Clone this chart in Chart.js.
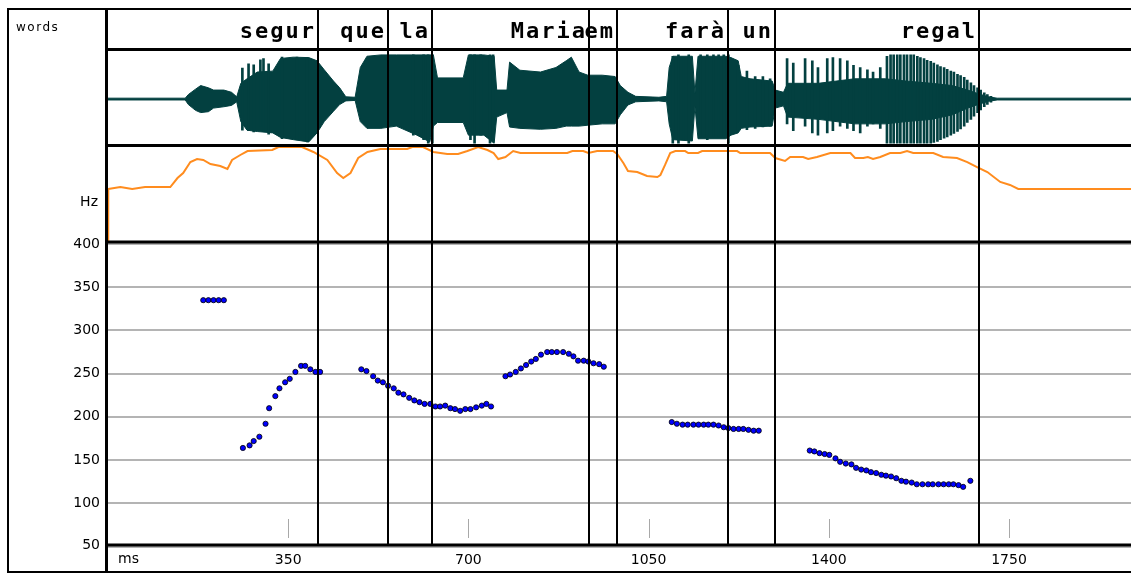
<!DOCTYPE html>
<html>
<head>
<meta charset="utf-8">
<title>Pitch contour</title>
<script src="https://cdn.jsdelivr.net/npm/chart.js@4.4.1/dist/chart.umd.min.js"></script>
<style>
  html, body { margin: 0; padding: 0; background: #fff; }
  #wrap { position: relative; width: 1131px; height: 574px; }
</style>
</head>
<body>
<div id="wrap"><canvas id="praat"></canvas></div>
<script>
// Word tier: labels and their end times (ms)
const words = ['segur', 'que', 'la', 'Maria', 'em', 'farà', 'un', 'regal'];
const wordEnds = [408, 544, 630, 934, 988, 1205, 1296, 1692];

// Axis tick values
const timeTicks = [350, 700, 1050, 1400, 1750];
const hzTicks = [50, 100, 150, 200, 250, 300, 350, 400];

// Waveform envelope (relative amplitude)
const waveTimes = [0, 150, 156, 170, 180, 195, 205, 225, 240, 250, 258, 270, 290, 320, 335, 360, 390, 406, 420, 438,
  450, 462, 480, 490, 503, 530, 560, 600, 625, 632, 640, 690, 700, 730, 750, 755, 775, 780, 800, 840,
  870, 890, 900, 915, 932, 960, 985, 995, 1010, 1025, 1070, 1085, 1090, 1097, 1135, 1140, 1146, 1200, 1210, 1224,
  1230, 1247, 1290, 1296, 1312, 1320, 1380, 1450, 1510, 1550, 1600, 1640, 1670, 1690, 1710, 1727, 1987];
const waveUpper = [0.02, 0.02, 0.1, 0.22, 0.3, 0.25, 0.2, 0.2, 0.15, 0.05, 0.35, 0.45, 0.6, 0.62, 0.9, 0.93, 0.92, 0.85, 0.65, 0.4,
  0.25, 0.05, 0.04, 0.7, 0.95, 0.98, 0.98, 0.98, 0.98, 0.98, 0.47, 0.47, 0.98, 0.98, 0.95, 0.2, 0.2, 0.82, 0.64, 0.6,
  0.7, 0.85, 0.93, 0.6, 0.53, 0.53, 0.5, 0.3, 0.15, 0.06, 0.04, 0.06, 0.7, 0.95, 0.95, 0.13, 0.95, 0.95, 0.92, 0.85,
  0.5, 0.45, 0.4, 0.2, 0.15, 0.35, 0.35, 0.45, 0.45, 0.4, 0.35, 0.3, 0.2, 0.12, 0.05, 0.02, 0.02];
const waveLower = [-0.02, -0.02, -0.12, -0.25, -0.3, -0.28, -0.2, -0.17, -0.14, -0.06, -0.5, -0.69, -0.72, -0.75, -0.85, -0.9, -0.95, -0.75, -0.5, -0.27,
  -0.12, -0.04, -0.03, -0.5, -0.65, -0.65, -0.6, -0.8, -0.95, -0.6, -0.52, -0.52, -0.8, -0.8, -0.98, -0.4, -0.3, -0.62, -0.65, -0.67,
  -0.65, -0.6, -0.6, -0.6, -0.58, -0.55, -0.55, -0.35, -0.13, -0.06, -0.04, -0.06, -0.55, -0.9, -0.93, -0.16, -0.88, -0.88, -0.8, -0.75,
  -0.65, -0.62, -0.6, -0.2, -0.15, -0.4, -0.45, -0.55, -0.55, -0.5, -0.45, -0.35, -0.2, -0.12, -0.05, -0.02, -0.02];

// Glottal pulses that stick out of the envelope
const spikeTimes = [261, 273, 283, 296, 302, 312, 338, 367, 387,
  593, 613, 622, 630,
  704, 712, 724, 742, 748,
  1097, 1108, 1118, 1128, 1151, 1164, 1176, 1186, 1196, 1205,
  1224, 1241, 1257, 1272, 1286,
  1319, 1331, 1354, 1368, 1379, 1397, 1408, 1422, 1436, 1448, 1461, 1475, 1486, 1500,
  1513, 1520, 1526, 1533, 1539, 1546, 1552, 1559, 1565, 1572, 1578, 1585, 1591, 1598, 1604, 1611,
  1617, 1624, 1630, 1637, 1643, 1650, 1656, 1663, 1669, 1676, 1682, 1689, 1695, 1702, 1708, 1715];
const spikeTop = [0.69, 0.78, 0.76, 0.87, 0.9, 0.78, 0.93, 0.93, 0.92,
  0.98, 0.98, 0.98, 0.98,
  0.98, 0.98, 0.98, 0.98, 0.98,
  0.95, 0.98, 0.92, 0.98, 0.98, 0.98, 0.98, 0.98, 0.98, 0.98,
  0.75, 0.62, 0.5, 0.5, 0.45,
  0.9, 0.8, 0.9, 0.85, 0.7, 0.9, 0.92, 0.9, 0.85, 0.75, 0.7, 0.65, 0.6, 0.7,
  0.95, 0.98, 0.98, 0.98, 0.98, 0.98, 0.98, 0.98, 0.98, 0.95, 0.92, 0.9, 0.86, 0.84, 0.8, 0.76,
  0.72, 0.7, 0.66, 0.62, 0.6, 0.55, 0.52, 0.48, 0.42, 0.36, 0.3, 0.25, 0.2, 0.14, 0.1, 0.06];
const spikeBottom = [-0.69, -0.7, -0.73, -0.6, -0.7, -0.78, -0.88, -0.9, -0.95,
  -0.8, -0.9, -0.98, -0.98,
  -0.9, -0.98, -0.8, -0.98, -0.95,
  -0.98, -0.98, -0.9, -0.98, -0.85, -0.9, -0.85, -0.82, -0.8, -0.98,
  -0.7, -0.68, -0.65, -0.62, -0.6,
  -0.55, -0.7, -0.6, -0.75, -0.8, -0.75, -0.7, -0.6, -0.65, -0.7, -0.75, -0.6, -0.55, -0.65,
  -0.98, -0.98, -0.98, -0.98, -0.98, -0.98, -0.98, -0.98, -0.98, -0.98, -0.98, -0.98, -0.98, -0.98, -0.96, -0.94,
  -0.9, -0.87, -0.84, -0.8, -0.76, -0.72, -0.66, -0.6, -0.52, -0.45, -0.38, -0.3, -0.24, -0.17, -0.12, -0.07];

// Intensity contour (dB, relative)
const intTimes = [0, 0.5, 24, 47, 72, 121, 135, 146, 160, 173, 185, 199, 218, 232, 241, 257, 271, 319, 331, 377,
  399, 426, 445, 457, 471, 486, 504, 529, 581, 591, 612, 632, 659, 680, 698, 719, 737, 749, 758, 772,
  787, 801, 892, 902, 923, 933, 950, 981, 989, 1001, 1010, 1028, 1047, 1067, 1073, 1082, 1092, 1102, 1121, 1127,
  1146, 1154, 1222, 1228, 1286, 1296, 1315, 1325, 1350, 1360, 1377, 1403, 1442, 1451, 1467, 1476, 1486, 1500, 1519, 1539,
  1552, 1564, 1603, 1622, 1649, 1669, 1688, 1708, 1733, 1752, 1768, 1987];
const intValues = [0, 55.3, 57.4, 55.3, 57.4, 57.4, 67, 72.3, 84, 87.2, 86.2, 81.9, 79.8, 76.6, 86.2, 91.5, 95.7, 96.8, 100, 100,
  94.7, 86.2, 72.3, 67, 72.3, 88.3, 94.7, 97.9, 97.9, 100, 100, 94.7, 92.6, 92.6, 95.7, 100, 96.8, 93.6, 87.2, 89.4,
  95.7, 93.6, 93.6, 95.7, 95.7, 93.6, 95.7, 95.7, 92.6, 83, 74.5, 73.4, 69.1, 68.1, 70.2, 80.9, 93.6, 95.7, 95.7, 93.6,
  93.6, 95.7, 95.7, 93.6, 93.6, 88.3, 85.1, 89.4, 89.4, 87.2, 89.4, 93.6, 93.6, 88.3, 88.3, 89.4, 87.2, 89.4, 93.6, 93.6,
  95.7, 93.6, 93.6, 89.4, 88.3, 84, 78.7, 73.4, 62.8, 59.6, 55.3, 55.3];

// Pitch (F0) points
const pitchTimes = [185, 195, 205, 215, 225,
  262, 275, 283, 294, 306, 313, 325, 333, 344, 353, 364, 375, 383, 393, 403, 412,
  492, 502, 515, 524, 534, 544, 555, 564, 574, 585, 595, 605, 615, 626, 636, 645, 655, 665, 674, 684, 694, 704, 715, 726, 735, 744,
  772, 781, 792, 802, 812, 822, 831, 841, 853, 862, 872, 884, 895, 904, 913, 924, 933, 943, 954, 963,
  1095, 1105, 1116, 1126, 1137, 1147, 1157, 1166, 1176, 1186, 1196, 1205, 1215, 1225, 1234, 1244, 1254, 1264,
  1363, 1372, 1382, 1392, 1401, 1413, 1422, 1433, 1444, 1453, 1463, 1473, 1482, 1492, 1502, 1511, 1521, 1531, 1541, 1550,
  1561, 1571, 1582, 1593, 1602, 1613, 1623, 1633, 1642, 1652, 1661, 1675];
const pitchHz = [335, 335, 335, 335, 335,
  164, 167, 172, 177, 192, 210, 224, 233, 240, 244, 252, 259, 259, 255, 252, 252,
  255, 253, 247, 242, 240, 236, 233, 228, 226, 222, 219, 217, 215, 215, 212, 212, 213, 210, 209, 207, 209, 209, 211, 213, 215, 212,
  247, 249, 252, 256, 260, 264, 267, 272, 275, 275, 275, 275, 273, 270, 265, 265, 264, 262, 261, 258,
  194, 192, 191, 191, 191, 191, 191, 191, 191, 190, 188, 187, 186, 186, 186, 185, 184, 184,
  161, 160, 158, 157, 156, 152, 148, 146, 145, 141, 139, 138, 136, 135, 133, 132, 131, 129, 126, 125,
  124, 122, 122, 122, 122, 122, 122, 122, 122, 121, 119, 126];

const TEAL = '#034040';
const ORANGE = '#ff8c1e';

function pts(xs, ys) {
    return xs.map((t, i) => ({ x: t, y: ys[i] }));
}

// Frames, tier labels, word boundaries and side labels
const praatFrame = {
    id: 'praatFrame',
    beforeDraw(chart) {
        const ctx = chart.ctx;
        ctx.save();
        ctx.fillStyle = '#fff';
        ctx.fillRect(0, 0, chart.width, chart.height);
        ctx.restore();
    },
    afterDatasetsDraw(chart) {
        const { ctx, scales, chartArea } = chart;
        const x = scales.x, yWords = scales.yWords, yWave = scales.yWave, yInt = scales.yInt, yPitch = scales.yPitch;
        const left = chartArea.left, right = chart.width;
        const line = (x1, y1, x2, y2) => {
            ctx.beginPath();
            ctx.moveTo(x1, y1);
            ctx.lineTo(x2, y2);
            ctx.stroke();
        };
        ctx.save();

        // small time marks inside the pitch panel
        ctx.strokeStyle = '#a8a8a8';
        ctx.lineWidth = 1;
        x.ticks.forEach(t => {
            const px = Math.round(x.getPixelForValue(t.value)) + 0.5;
            line(px, 519, px, 538);
        });

        // word boundaries
        ctx.strokeStyle = '#000';
        ctx.lineWidth = 2;
        wordEnds.forEach(ms => {
            const px = Math.round(x.getPixelForValue(ms));
            line(px, yWords.top, px, yPitch.bottom - 1);
        });

        // word labels, right aligned on their boundary
        ctx.fillStyle = '#000';
        ctx.font = 'bold 22px "DejaVu Sans Mono"';
        ctx.letterSpacing = '2px';
        ctx.textAlign = 'right';
        ctx.textBaseline = 'alphabetic';
        words.forEach((w, i) => {
            ctx.fillText(w, Math.round(x.getPixelForValue(wordEnds[i])) - 2, yWords.bottom - 12);
        });
        ctx.letterSpacing = '0px';

        // panel separators
        ctx.lineWidth = 3;
        [yWave.top, yInt.top, yPitch.top - 2, yPitch.bottom - 1.5].forEach(y => line(left - 2, y, right, y));
        line(left - 1.5, 8, left - 1.5, 573);

        // outer frame
        ctx.lineWidth = 2;
        line(7, 9, right, 9);
        line(8, 8, 8, 573);
        line(7, 572, right, 572);

        // pitch axis labels from the pitch scale
        ctx.font = '14px "DejaVu Sans"';
        ctx.textAlign = 'right';
        ctx.textBaseline = 'middle';
        yPitch.ticks.forEach(t => {
            const py = Math.min(yPitch.getPixelForValue(t.value), yPitch.bottom - 1);
            ctx.fillText(String(t.value), left - 8, py);
        });
        ctx.fillText('Hz', 98, 202);

        // side labels
        ctx.textAlign = 'left';
        ctx.fillText('ms', 118, 559);
        ctx.font = '12px "DejaVu Sans"';
        ctx.letterSpacing = '1.5px';
        ctx.fillText('words', 16, 28);
        ctx.restore();
    }
};

const chart = new Chart(document.getElementById('praat'), {
    type: 'line',
    data: {
        datasets: [{
            type: 'scatter',
            label: 'F0',
            data: pts(pitchTimes, pitchHz),
            yAxisID: 'yPitch',
            pointRadius: 2.6,
            pointBackgroundColor: '#0000ff',
            pointBorderColor: '#000',
            pointBorderWidth: 0.8,
            order: 0
        }, {
            label: 'Intensity',
            data: pts(intTimes, intValues),
            yAxisID: 'yInt',
            borderColor: ORANGE,
            borderWidth: 2,
            pointRadius: 0,
            tension: 0,
            fill: false,
            order: 1
        }, {
            label: 'wave top',
            data: pts(waveTimes, waveUpper),
            yAxisID: 'yWave',
            borderColor: TEAL,
            borderWidth: 1,
            pointRadius: 0,
            tension: 0,
            fill: false,
            order: 3
        }, {
            label: 'wave bottom',
            data: pts(waveTimes, waveLower),
            yAxisID: 'yWave',
            borderColor: TEAL,
            backgroundColor: TEAL,
            borderWidth: 1,
            pointRadius: 0,
            tension: 0,
            fill: '-1',
            order: 3
        }, {
            type: 'bar',
            label: 'pulses',
            data: spikeTimes.map((t, i) => ({ x: t, y: [spikeBottom[i], spikeTop[i]] })),
            yAxisID: 'yWave',
            backgroundColor: TEAL,
            borderWidth: 0,
            barThickness: 2,
            order: 2
        }]
    },
    options: {
        responsive: true,
        maintainAspectRatio: false,
        animation: false,
        events: [],
        layout: { autoPadding: false, padding: { top: 9, left: 0, right: 0, bottom: 0 } },
        plugins: {
            legend: { display: false },
            tooltip: { enabled: false }
        },
        scales: {
            x: {
                type: 'linear',
                min: 0,
                max: 1987,
                offset: false,
                afterBuildTicks: scale => { scale.ticks = timeTicks.map(v => ({ value: v })); },
                afterFit: scale => { scale.height = 27.5; },
                grid: { display: false, drawTicks: false, offset: false },
                border: { display: false },
                ticks: {
                    color: '#000',
                    font: { family: 'DejaVu Sans', size: 14 },
                    padding: 5,
                    maxRotation: 0,
                    autoSkip: false,
                    callback: v => String(v)
                }
            },
            yWords: {
                type: 'linear', position: 'left', stack: 'panels', stackWeight: 40.5, weight: 4,
                min: 0, max: 1, display: false
            },
            yWave: {
                type: 'linear', position: 'left', stack: 'panels', stackWeight: 96, weight: 3,
                min: -1.03, max: 1.1, display: false
            },
            yInt: {
                type: 'linear', position: 'left', stack: 'panels', stackWeight: 98.5, weight: 2,
                min: -3.2, max: 101.6, display: false
            },
            yPitch: {
                type: 'linear', position: 'left', stack: 'panels', stackWeight: 302.5, weight: 1,
                min: 50, max: 400,
                afterBuildTicks: scale => { scale.ticks = hzTicks.map(v => ({ value: v })); },
                afterFit: scale => { scale.width = 108; },
                grid: { color: '#b4b4b4', lineWidth: 2, drawTicks: false },
                border: { display: false },
                ticks: { display: false }
            }
        }
    },
    plugins: [praatFrame]
});
</script>
</body>
</html>
